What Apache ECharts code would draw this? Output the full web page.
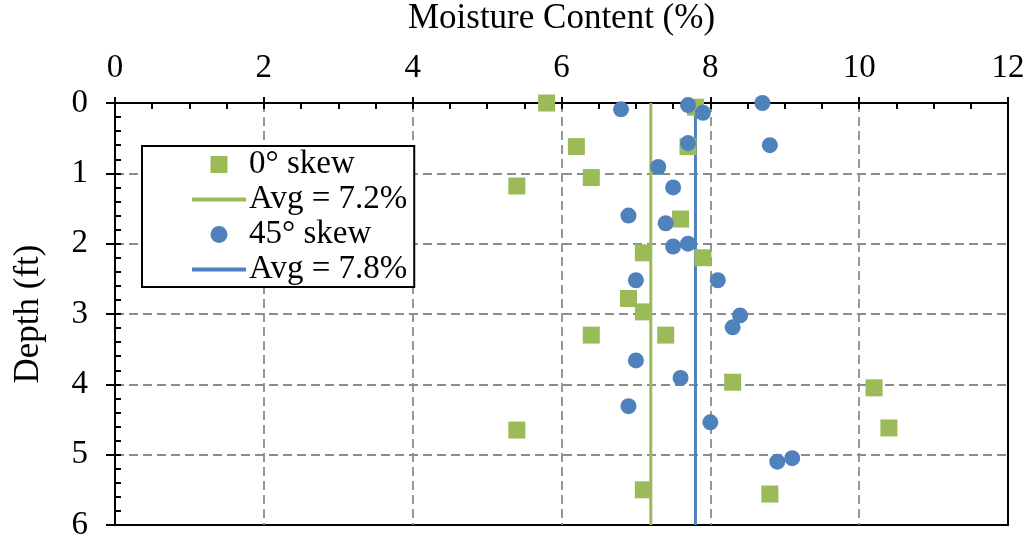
<!DOCTYPE html>
<html>
<head>
<meta charset="utf-8">
<script src="https://cdn.jsdelivr.net/npm/echarts@6/dist/echarts.min.js"></script>
<style>html,body{margin:0;padding:0;background:#fff}#c{width:1029px;height:539px}</style>
</head>
<body>
<div id="c"></div>
<script>
// Moisture content (%) and depth (ft)
const skew0Moisture = [5.8, 7.8, 6.2, 7.7, 6.4, 5.4, 7.6, 7.1, 7.9, 6.9, 7.1, 6.4, 7.4, 8.3, 10.2, 5.4, 10.4, 7.1, 8.8];
const skew0Depth    = [0.0, 0.06, 0.62, 0.62, 1.06, 1.18, 1.65, 2.13, 2.2, 2.78, 2.97, 3.3, 3.3, 3.97, 4.05, 4.65, 4.62, 5.5, 5.56];
const skew45Moisture = [6.8, 7.7, 7.9, 8.7, 7.7, 8.8, 7.3, 7.5, 6.9, 7.4, 7.5, 7.7, 7.0, 8.1, 8.4, 8.3, 7.0, 7.6, 6.9, 8.0, 8.9, 9.1];
const skew45Depth    = [0.09, 0.03, 0.14, 0.0, 0.57, 0.6, 0.91, 1.2, 1.6, 1.71, 2.04, 2.0, 2.52, 2.52, 3.02, 3.19, 3.66, 3.91, 4.31, 4.54, 5.1, 5.05];
const avg0 = 7.2;
const avg45 = 7.8;
const depthRange = [0, 6];
const moistureRange = [0, 12];
const seriesNames = ['0° skew', 'Avg = 7.2%', '45° skew', 'Avg = 7.8%'];
const xTitle = 'Moisture Content (%)';
const yTitle = 'Depth (ft)';

const GREEN = '#9BBB59', BLUE = '#4F81BD';
const FONT = 'Liberation Serif';
const FS = 33;
const zip = (a, b) => a.map((v, i) => [v, b[i]]);

const chart = echarts.init(document.getElementById('c'), null, {renderer: 'canvas'});
const axisText = {color: '#000', fontFamily: FONT, fontSize: FS};
const titleText = {color: '#000', fontFamily: FONT, fontSize: 35};
const gridLine = {show: true, showMinLine: false, showMaxLine: false, lineStyle: {color: '#8c8c8c', width: 1.8, type: [9, 5]}};
const SQUARE = 'path://M0,0H10V10H0Z';
const BAR = 'path://M0,0H54V4H0Z';
chart.setOption({
  animation: false,
  backgroundColor: '#fff',
  grid: {left: 115, right: 21, top: 103, bottom: 14, outerBoundsMode: 'none', containLabel: false,
         show: true, borderColor: '#000', borderWidth: 2, backgroundColor: 'transparent'},
  xAxis: [{
    type: 'value', position: 'top', min: moistureRange[0], max: moistureRange[1], interval: 2,
    name: xTitle, nameLocation: 'middle', nameGap: 67, nameTextStyle: titleText,
    axisLine: {show: true, lineStyle: {color: '#000', width: 2}},
    axisTick: {show: true, inside: true, length: 6, lineStyle: {color: '#000', width: 2}},
    minorTick: {show: true, splitNumber: 4, length: 6, lineStyle: {color: '#000', width: 2}},
    axisLabel: {margin: 18, ...axisText},
    splitLine: gridLine
  }, {
    type: 'value', position: 'top', min: moistureRange[0], max: moistureRange[1], interval: 2,
    axisLine: {show: false}, axisLabel: {show: false}, splitLine: {show: false},
    axisTick: {show: true, inside: false, length: 6, lineStyle: {color: '#000', width: 2}}
  }],
  yAxis: [{
    type: 'value', inverse: true, min: depthRange[0], max: depthRange[1], interval: 1,
    name: yTitle, nameLocation: 'middle', nameGap: 69, nameTextStyle: titleText,
    axisLine: {show: true, lineStyle: {color: '#000', width: 2}},
    axisTick: {show: true, inside: true, length: 6, lineStyle: {color: '#000', width: 2}},
    minorTick: {show: true, splitNumber: 5, length: 6, lineStyle: {color: '#000', width: 2}},
    axisLabel: {margin: 27, ...axisText},
    splitLine: gridLine
  }, {
    type: 'value', inverse: true, min: depthRange[0], max: depthRange[1], interval: 1, position: 'left',
    axisLine: {show: false}, axisLabel: {show: false}, splitLine: {show: false},
    axisTick: {show: true, inside: false, length: 9, lineStyle: {color: '#000', width: 2}}
  }],
  legend: {
    orient: 'vertical', left: 142, top: 146,
    data: [
      {name: seriesNames[0], icon: SQUARE},
      {name: seriesNames[1], icon: BAR},
      {name: seriesNames[2], icon: 'circle'},
      {name: seriesNames[3], icon: BAR}
    ],
    symbolKeepAspect: true,
    backgroundColor: '#fff', borderColor: '#000', borderWidth: 2, borderRadius: 0,
    padding: [2, 7, 1, 50], itemGap: 2, itemWidth: 54, itemHeight: 17,
    textStyle: {color: '#000', fontFamily: FONT, fontSize: FS, lineHeight: 33, padding: [0, 0, 0, -2]}
  },
  series: [
    {name: seriesNames[1], type: 'line', z: 2, data: [[avg0, depthRange[0]], [avg0, depthRange[1]]],
     symbol: 'none', lineStyle: {color: GREEN, width: 3}, itemStyle: {color: GREEN}},
    {name: seriesNames[3], type: 'line', z: 2, data: [[avg45, depthRange[0]], [avg45, depthRange[1]]],
     symbol: 'none', lineStyle: {color: BLUE, width: 3}, itemStyle: {color: BLUE}},
    {name: seriesNames[0], type: 'scatter', z: 3, symbol: 'rect', symbolSize: 17,
     data: zip(skew0Moisture, skew0Depth), itemStyle: {color: GREEN, opacity: 1}},
    {name: seriesNames[2], type: 'scatter', z: 4, symbol: 'circle', symbolSize: 16,
     data: zip(skew45Moisture, skew45Depth), itemStyle: {color: BLUE, opacity: 1}}
  ]
});
</script>
</body>
</html>
